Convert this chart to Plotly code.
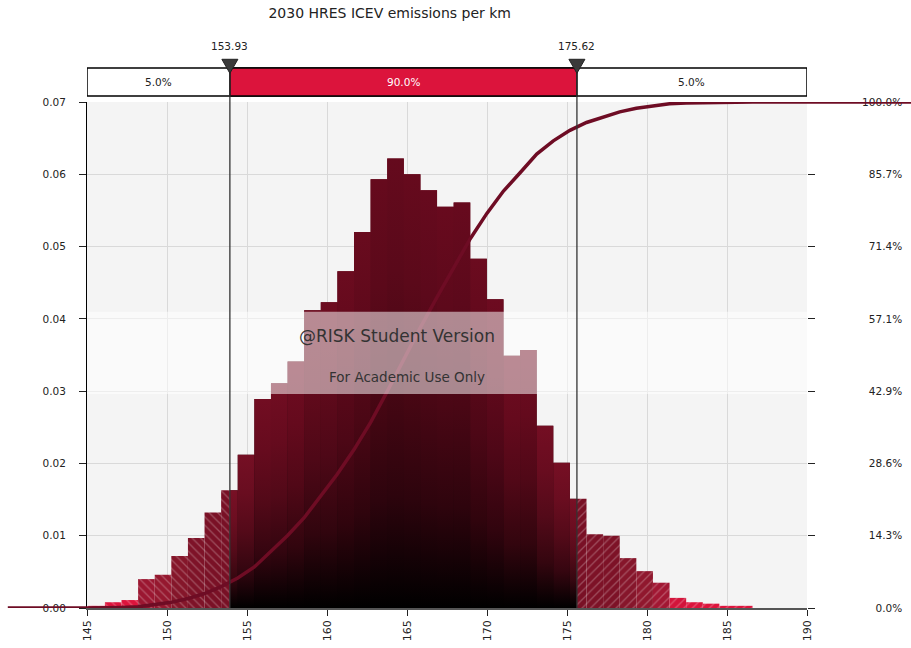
import plotly.graph_objects as go
from plotly.colors import sample_colorscale
import numpy as np

# ---------------- data ----------------
title_text = "2030 HRES ICEV emissions per km"
bin_start = 145.08
bin_width = 1.038
density = [0.0003, 0.0008, 0.0011, 0.0040, 0.0046, 0.0072, 0.0097, 0.0132, 0.0163, 0.0212,
           0.0289, 0.0311, 0.0341, 0.0412, 0.0423, 0.0466, 0.0520, 0.0593, 0.0622, 0.0600,
           0.0578, 0.0555, 0.0561, 0.0483, 0.0427, 0.0349, 0.0357, 0.0252, 0.0201, 0.0151,
           0.0102, 0.0100, 0.0069, 0.0051, 0.0035, 0.0014, 0.0008, 0.0006, 0.0003, 0.0003]
p_low, p_high = 153.93, 175.62
band_labels = ["5.0%", "90.0%", "5.0%"]
x_ticks = [145, 150, 155, 160, 165, 170, 175, 180, 185, 190]
y_ticks = [0.00, 0.01, 0.02, 0.03, 0.04, 0.05, 0.06, 0.07]
cum_ticks = [0, 1/7, 2/7, 3/7, 4/7, 5/7, 6/7, 1]
cum_labels = ["0.0%", "14.3%", "28.6%", "42.9%", "57.1%", "71.4%", "85.7%", "100.0%"]
x_range = [145, 190]
y_range = [0, 0.07]

FONT = "DejaVu Sans"
heat_scale = [[0, '#dc143c'], [0.25, '#dc143c'], [0.45, '#a21733'], [0.55, '#8a182c'],
              [0.66, '#7c1227'], [0.9, '#700c21'], [1, '#650a1d']]


def bar_color(h):
    u = (np.log10(max(h, 1e-5)) + 3.5) / 2.3
    u = float(min(max(u, 0), 1))
    return sample_colorscale(heat_scale, [u])[0]


def shade(col, f):
    r, g, b = [int(v) for v in col[col.index('(') + 1:-1].split(',')]
    return f"rgb({int(r*f)},{int(g*f)},{int(b*f)})"


fig = go.Figure()

edges = [bin_start + k * bin_width for k in range(len(density) + 1)]

# backdrop: whole centre part as one stepped outline, to hide seams between bars
bx, by = [], []
for k, h in enumerate(density):
    a, b = max(edges[k], p_low), min(edges[k + 1], p_high)
    if a < b:
        if not bx:
            bx.append(a); by.append(0)
        bx += [a, b]; by += [h, h]
        last = b
bx += [last, bx[0]]; by += [0, 0]
fig.add_trace(go.Scatter(x=bx, y=by, mode='lines', fill='toself', line=dict(width=0),
                         fillcolor='#3a0612', hoverinfo='skip', showlegend=False,
                         fillgradient=dict(type='vertical', start=0, stop=max(density),
                                           colorscale=[[0, '#000000'], [0.5, '#4a0815'],
                                                       [1, '#6a0b1e']])))

for k, h in enumerate(density):
    a, b = edges[k], edges[k + 1]
    col = bar_color(h)
    segs = []
    if a < p_low:
        segs.append((a, min(b, p_low), 'L'))
    ca, cb = max(a, p_low), min(b, p_high)
    if ca < cb:
        segs.append((ca, cb, 'C'))
    if b > p_high:
        segs.append((max(a, p_high), b, 'R'))
    for s0, s1, kind in segs:
        xs = [s0, s0, s1, s1, s0]
        ys = [0, h, h, 0, 0]
        common = dict(x=xs, y=ys, mode='lines', fill='toself', line=dict(width=0),
                      hoverinfo='skip', showlegend=False)
        if kind == 'C':
            grad = [[0, '#000000'], [0.25, shade(col, 0.45)], [0.5, shade(col, 0.72)],
                    [0.75, shade(col, 0.9)], [1, col]]
            fig.add_trace(go.Scatter(**common, fillcolor=col,
                                     fillgradient=dict(type='vertical', start=0, stop=h,
                                                       colorscale=grad)))
        else:
            fig.add_trace(go.Scatter(**common, fillcolor=col,
                                     fillpattern=dict(shape='\\' if kind == 'L' else '/',
                                                      fgcolor='rgba(255,255,255,0.5)',
                                                      bgcolor=col, fillmode='overlay',
                                                      size=6, solidity=0.22)))

# cumulative curve from the histogram
dens = np.array(density)
cum = np.concatenate([[0], np.cumsum(dens * bin_width)])
cum = cum / cum[-1]
cx = [x_range[0]] + edges + [x_range[1]]
cy = [0] + list(cum) + [1]
fig.add_trace(go.Scatter(x=cx, y=cy, yaxis='y2', mode='lines',
                         line=dict(color='#6e0c24', width=3.5), hoverinfo='skip',
                         showlegend=False))

shapes = []
# extensions of the cumulative curve outside the plot
shapes.append(dict(type='line', xref='paper', yref='y2', x0=-0.11, x1=0, y0=0, y1=0,
                   line=dict(color='#6e0c24', width=3.5), layer='above'))
shapes.append(dict(type='line', xref='paper', yref='y2', x0=1, x1=1.15, y0=1, y1=1,
                   line=dict(color='#6e0c24', width=3.5), layer='above'))

# watermark band
shapes.append(dict(type='rect', xref='paper', yref='y', x0=0, x1=1, y0=0.0296, y1=0.0410,
                   fillcolor='rgba(255,255,255,0.52)', line=dict(width=0), layer='above'))

# top summary box
box_y0, box_y1 = 1.0119, 1.067
shapes.append(dict(type='rect', xref='x', yref='paper', x0=x_range[0], x1=x_range[1],
                   y0=box_y0, y1=box_y1, fillcolor='white', line=dict(color='black', width=1.5)))
shapes.append(dict(type='rect', xref='x', yref='paper', x0=p_low, x1=p_high,
                   y0=box_y0, y1=box_y1, fillcolor='#dc143c', line=dict(color='black', width=1.5)))
for p in (p_low, p_high):
    shapes.append(dict(type='line', xref='x', yref='paper', x0=p, x1=p, y0=0, y1=1.06,
                       line=dict(color='#333333', width=1.3), layer='above'))
    shapes.append(dict(type='path', xref='x', yref='paper',
                       path=f"M {p-0.5},1.0844 L {p+0.5},1.0844 L {p},1.0567 Z",
                       fillcolor='#3a3a3a', line=dict(color='#222222', width=1)))
fig.update_layout(shapes=shapes)

ann = []
mids = [(x_range[0] + p_low) / 2, (p_low + p_high) / 2, (p_high + x_range[1]) / 2]
for m, t, c in zip(mids, band_labels, ['#222', 'white', '#222']):
    ann.append(dict(x=m, y=(box_y0 + box_y1) / 2, xref='x', yref='paper', text=t,
                    yanchor='middle', xanchor='center',
                    showarrow=False, font=dict(family=FONT, size=10.5, color=c)))
for p in (p_low, p_high):
    ann.append(dict(x=p, y=1.1107, xref='x', yref='paper', text=f"{p:.2f}", showarrow=False,
                    yanchor='middle', xanchor='center',
                    font=dict(family=FONT, size=10.5, color='#222')))
ann.append(dict(x=164.4, y=0.0376, xref='x', yref='y', text="@RISK Student Version",
                showarrow=False, font=dict(family=FONT, size=17, color='#333333')))
ann.append(dict(x=165.0, y=0.0320, xref='x', yref='y', text="For Academic Use Only",
                showarrow=False, font=dict(family=FONT, size=13.5, color='#333333')))

# right labels padded with figure spaces so they right-align
maxlen = max(len(s) for s in cum_labels)
cum_text = ["\u2007" * (maxlen - len(s)) + s for s in cum_labels]

fig.update_layout(
    width=911, height=648,
    margin=dict(l=87, r=104, t=102, b=40, autoexpand=False),
    paper_bgcolor='white', plot_bgcolor='#f4f4f4',
    showlegend=False,
    title=dict(text=title_text, x=383 / 911, xanchor='center',
               y=1 - 13 / 648, yanchor='middle', xref='paper',
               font=dict(family=FONT, size=14, color='#222')),
    annotations=ann,
    xaxis=dict(range=x_range, tickvals=x_ticks, tickangle=-90, ticks='outside', ticklen=6,
               tickcolor='#222', showgrid=True, gridcolor='#d9d9d9', gridwidth=1,
               showline=True, linecolor='#555555', linewidth=1.5, zeroline=False,
               automargin=False,
               tickfont=dict(family=FONT, size=11, color='#222')),
    yaxis=dict(range=y_range, tickvals=y_ticks, tickformat='.2f', ticks='outside', ticklen=7,
               tickcolor='#222', showgrid=True, gridcolor='#d9d9d9', gridwidth=1,
               showline=True, linecolor='black', linewidth=1, zeroline=False,
               automargin=False, ticklabelstandoff=11,
               tickfont=dict(family=FONT, size=10.5, color='#222')),
    yaxis2=dict(range=[0, 1], overlaying='y', side='right', tickvals=cum_ticks,
                ticktext=cum_text, ticks='outside', ticklen=7, tickcolor='#222',
                showgrid=False, showline=False, zeroline=False, ticklabelstandoff=45,
                automargin=False,
                tickfont=dict(family=FONT, size=10.5, color='#222')),
)

fig.write_html("out.html")
